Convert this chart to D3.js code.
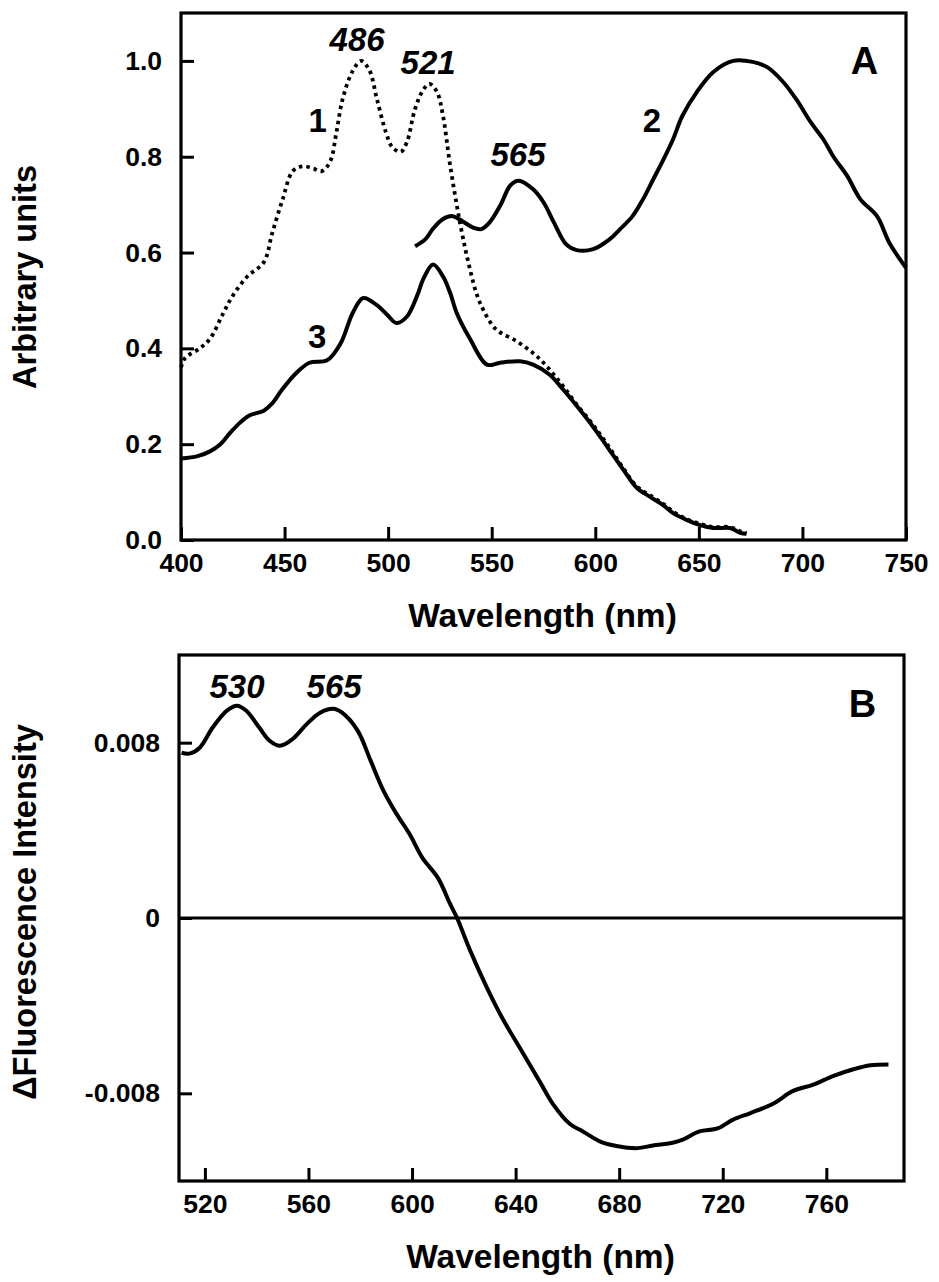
<!DOCTYPE html>
<html><head><meta charset="utf-8">
<script src="https://cdn.jsdelivr.net/npm/d3@7"></script>
<style>body{margin:0;background:#fff}svg{display:block}</style>
</head><body>
<svg id="c" width="939" height="1282"></svg>
<script>
// ---------- Panel A data ----------
const a1Wl = [400,402,409,414,420,425,432,440,444,449,454,459,464,468,472,475,478,483,487,491,494.6,499,502,506,509,513,517,520,523.6,526.5,530,535,539.5,543,546,552,562,570,575,580,585,591,599,606,613.5,620,626.5,633,638,644,651,657,665,670,673];
const a1Val = [0.36,0.38,0.40,0.42,0.47,0.51,0.55,0.58,0.64,0.71,0.77,0.78,0.775,0.77,0.79,0.85,0.92,0.98,1.0,0.98,0.92,0.85,0.82,0.81,0.83,0.90,0.94,0.952,0.935,0.885,0.78,0.655,0.565,0.51,0.48,0.44,0.415,0.39,0.37,0.345,0.318,0.283,0.24,0.198,0.15,0.112,0.093,0.075,0.058,0.044,0.033,0.027,0.027,0.018,0.015];

const a2Wl = [513,518,521.7,526.5,531,536,541,545,549,554,559,563,570,575,580,586,591,599,607,612,618,623,628,633,637.6,642,649,657,666.5,676,683,690.7,697,704,710,715,721.6,728,736,742,750];
const a2Val = [0.613,0.628,0.65,0.67,0.676,0.665,0.652,0.649,0.663,0.697,0.74,0.75,0.732,0.705,0.663,0.617,0.605,0.607,0.628,0.649,0.676,0.711,0.753,0.795,0.837,0.885,0.935,0.977,1.0,0.998,0.987,0.956,0.92,0.872,0.837,0.80,0.76,0.711,0.676,0.62,0.568];

const a3Wl = [400,408,414,419,424,428.5,433,440,444,449,456,462,470.5,477,483,488,494.6,499.5,504,509,514,517,521.7,526.5,530,533,539.5,547.7,554,563.7,570,578,584.5,591,599,605.7,613.5,620,626.5,632.7,637.6,644,650.6,657,665,670,673];
const a3Val = [0.17,0.175,0.185,0.20,0.225,0.245,0.26,0.27,0.285,0.315,0.35,0.37,0.375,0.41,0.475,0.505,0.49,0.47,0.453,0.466,0.51,0.545,0.575,0.55,0.515,0.475,0.42,0.366,0.37,0.373,0.366,0.345,0.314,0.28,0.236,0.195,0.147,0.109,0.09,0.073,0.056,0.042,0.031,0.025,0.025,0.015,0.013];

const aXTicks = [400,450,500,550,600,650,700,750];
const aYTicks = [0,0.2,0.4,0.6,0.8,1.0];

// ---------- Panel B data ----------
const bWl = [511,514,518,523,528.5,532.4,536,541,545,549,554,559.5,564.5,569.5,573,579,584,589,594,599,604,610,614.7,617.4,622.5,629,635,641.5,649.5,654.5,661,666,672.7,679,687,693,701,704.8,711,718,724,730.7,739.6,747,755,762.8,770.5,777,784];
const bVal = [7.54,7.5,7.77,8.69,9.46,9.69,9.46,8.69,8.09,7.86,8.18,8.87,9.37,9.55,9.37,8.55,7.18,5.8,4.75,3.84,2.74,1.83,0.64,0,-1.5,-3.2,-4.6,-5.9,-7.5,-8.5,-9.4,-9.74,-10.2,-10.4,-10.5,-10.38,-10.24,-10.1,-9.74,-9.6,-9.2,-8.9,-8.46,-7.9,-7.6,-7.2,-6.9,-6.72,-6.68].map(v => v/1000);

const bXTicks = [520,560,600,640,680,720,760];
const bYTicks = [0.008,0,-0.008];
const bYLabels = ["0.008","0","-0.008"];

// ---------- drawing ----------
const FONT = "'Liberation Sans', Arial, Helvetica, sans-serif";
const svg = d3.select("#c");

function panel(cfg){
  const g = svg.append("g");
  const x = d3.scaleLinear().domain(cfg.xDom).range([cfg.left, cfg.right]);
  const y = d3.scaleLinear().domain(cfg.yDom).range([cfg.bottom, cfg.top]);

  const xa = d3.axisBottom(x).tickValues(cfg.xTicks).tickSize(-13).tickPadding(13).tickFormat(d3.format("d"));
  const ya = d3.axisLeft(y).tickValues(cfg.yTicks).tickSize(-13).tickPadding(19).tickFormat(cfg.yFmt);
  const gx = g.append("g").attr("transform", `translate(0,${cfg.bottom})`).call(xa);
  const gy = g.append("g").attr("transform", `translate(${cfg.left},0)`).call(ya);
  [gx, gy].forEach(ax => {
    ax.select(".domain").remove();
    ax.selectAll(".tick line").attr("stroke", "#000").attr("stroke-width", 3);
    ax.selectAll(".tick text").attr("fill", "#000").style("font-family", FONT)
      .style("font-size", "26.5px").style("font-weight", "bold");
  });
  g.append("rect").attr("x", cfg.left).attr("y", cfg.top)
    .attr("width", cfg.right - cfg.left).attr("height", cfg.bottom - cfg.top)
    .attr("fill", "none").attr("stroke", "#000").attr("stroke-width", 3.2);

  // axis titles
  g.append("text").attr("x", (cfg.left + cfg.right) / 2 - 1).attr("y", cfg.bottom + 87)
    .attr("text-anchor", "middle").style("font-family", FONT).style("font-size", "33.5px")
    .style("font-weight", "bold").text("Wavelength (nm)");
  g.append("text").attr("transform", `translate(36,${cfg.yTitleY}) rotate(-90)`)
    .attr("text-anchor", "middle").style("font-family", FONT).style("font-size", "32.5px")
    .style("font-weight", "bold").text(cfg.yTitle);
  return {g, x, y};
}

// Panel A
const A = panel({left:181, right:906, top:13, bottom:540, xDom:[400,750], yDom:[0,1.1],
  xTicks:aXTicks, yTicks:aYTicks, yFmt:d3.format(".1f"), yTitle:"Arbitrary units", yTitleY:277});
const lineA = d3.line().x(d => A.x(d[0])).y(d => A.y(d[1])).curve(d3.curveCatmullRom.alpha(0.5));
A.g.append("path").datum(d3.zip(a1Wl, a1Val)).attr("d", lineA).attr("fill","none")
  .attr("stroke","#000").attr("stroke-width",3.8).attr("stroke-dasharray","3.5,4");
A.g.append("path").datum(d3.zip(a3Wl, a3Val)).attr("d", lineA).attr("fill","none")
  .attr("stroke","#000").attr("stroke-width",4);
A.g.append("path").datum(d3.zip(a2Wl, a2Val)).attr("d", lineA).attr("fill","none")
  .attr("stroke","#000").attr("stroke-width",4);

function label(P, wl, v, txt, size, italic){
  P.g.append("text").attr("x", P.x(wl)).attr("y", P.y(v)).attr("text-anchor","middle")
    .style("font-family", FONT).style("font-size", size + "px").style("font-weight","bold")
    .style("font-style", italic ? "italic" : "normal").text(txt);
}
label(A, 485, 1.021, "486", 33, true);
label(A, 519.3, 0.973, "521", 33, true);
label(A, 562.7, 0.78, "565", 33, true);
label(A, 466, 0.851, "1", 33, false);
label(A, 627.4, 0.851, "2", 33, false);
label(A, 465.7, 0.40, "3", 33, false);
label(A, 730, 0.973, "A", 38, false);

// Panel B
const B = panel({left:179, right:904, top:655, bottom:1181, xDom:[510,790], yDom:[-0.012,0.012],
  xTicks:bXTicks, yTicks:bYTicks, yFmt:(d,i) => bYLabels[i], yTitle:"\u0394Fluorescence Intensity", yTitleY:912});
B.g.append("line").attr("x1", B.x(510)).attr("x2", B.x(790)).attr("y1", B.y(0)).attr("y2", B.y(0))
  .attr("stroke","#000").attr("stroke-width",3);
const lineB = d3.line().x(d => B.x(d[0])).y(d => B.y(d[1])).curve(d3.curveCatmullRom.alpha(0.5));
B.g.append("path").datum(d3.zip(bWl, bVal)).attr("d", lineB).attr("fill","none")
  .attr("stroke","#000").attr("stroke-width",4);
label(B, 532.4, 0.01006, "530", 33, true);
label(B, 569.9, 0.01006, "565", 33, true);
label(B, 774, 0.00919, "B", 38, false);
</script>
</body></html>
